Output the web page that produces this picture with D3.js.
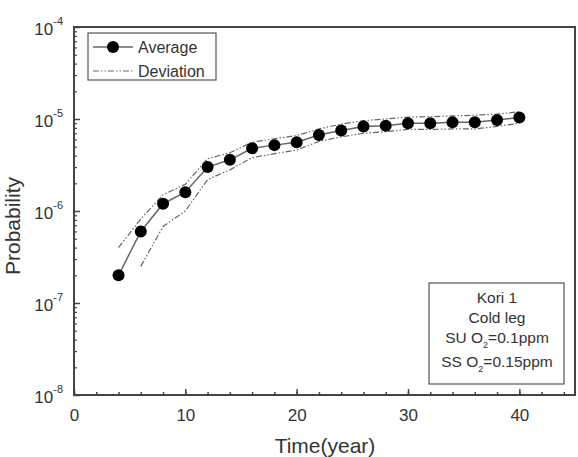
<!DOCTYPE html>
<html>
<head>
<meta charset="utf-8">
<script src="https://cdn.jsdelivr.net/npm/d3@7"></script>
<style>
  body { margin: 0; background: #fff; }
  svg text { font-family: "Liberation Sans", Arial, sans-serif; fill: #333; }
</style>
</head>
<body>
<div id="chart"></div>
<script>
var years = [4, 6, 8, 10, 12, 14, 16, 18, 20, 22, 24, 26, 28, 30, 32, 34, 36, 38, 40];
var average = [2e-7, 6e-7, 1.2e-6, 1.6e-6, 3e-6, 3.6e-6, 4.8e-6, 5.2e-6, 5.6e-6, 6.7e-6, 7.5e-6, 8.3e-6, 8.45e-6, 9e-6, 9e-6, 9.2e-6, 9.2e-6, 9.75e-6, 1.04e-5];
var upperDev = [4e-7, 8.2e-7, 1.5e-6, 1.95e-6, 3.7e-6, 4.3e-6, 5.6e-6, 6.1e-6, 6.6e-6, 7.8e-6, 8.8e-6, 9.6e-6, 1.0e-5, 1.05e-5, 1.06e-5, 1.08e-5, 1.1e-5, 1.13e-5, 1.2e-5];
var lowerYears = [6, 8, 10, 12, 14, 16, 18, 20, 22, 24, 26, 28, 30, 32, 34, 36, 38, 40];
var lowerDev = [2.5e-7, 6.8e-7, 1.0e-6, 2.2e-6, 2.8e-6, 3.8e-6, 4.2e-6, 4.6e-6, 5.7e-6, 6.4e-6, 7.0e-6, 7.3e-6, 7.7e-6, 7.7e-6, 7.8e-6, 7.8e-6, 8.3e-6, 9.0e-6];
var xTicks = [0, 10, 20, 30, 40];
var yExponents = [-4, -5, -6, -7, -8];
var noteLines = ["Kori 1", "Cold leg", "SU O|2|=0.1ppm", "SS O|2|=0.15ppm"];

var W = 578, H = 457;
var padL = 74, padT = 27, padR = 575, padB = 395;

var svg = d3.select("#chart").append("svg").attr("width", W).attr("height", H);

var x = d3.scaleLinear().domain([0, 45]).range([padL, padR]);
var y = d3.scaleLog().domain([1e-8, 1e-4]).range([padB, padT]);

// frame
svg.append("rect").attr("x", padL).attr("y", padT)
  .attr("width", padR - padL).attr("height", padB - padT)
  .attr("fill", "none").attr("stroke", "#444").attr("stroke-width", 2);

// x axis ticks (inward)
var xMinor = d3.range(0, 46, 2);
var xa = d3.axisBottom(x).tickValues(xMinor).tickSizeInner(-3).tickSizeOuter(0).tickFormat("");
svg.append("g").attr("transform", "translate(0," + padB + ")").call(xa)
  .call(function(g) { g.select(".domain").remove(); g.selectAll("line").attr("stroke", "#444").attr("stroke-width", 1.5); });
var xb = d3.axisBottom(x).tickValues(xTicks).tickSizeInner(-6).tickSizeOuter(0).tickPadding(10);
svg.append("g").attr("transform", "translate(0," + padB + ")").call(xb)
  .call(function(g) {
    g.select(".domain").remove();
    g.selectAll("line").attr("stroke", "#444").attr("stroke-width", 1.5);
    g.selectAll("text").attr("font-size", 17).attr("fill", "#333").attr("dy", "0.95em");
  });

// y axis ticks (inward), log minor ticks
var yMinor = [];
for (var e = -8; e < -4; e++) for (var m = 2; m <= 9; m++) yMinor.push(m * Math.pow(10, e));
var ya = d3.axisLeft(y).tickValues(yMinor).tickSizeInner(-3).tickSizeOuter(0).tickFormat("");
svg.append("g").attr("transform", "translate(" + padL + ",0)").call(ya)
  .call(function(g) { g.select(".domain").remove(); g.selectAll("line").attr("stroke", "#444").attr("stroke-width", 1.2); });
var yb = d3.axisLeft(y).tickValues(yExponents.map(function(p) { return Math.pow(10, p); }))
  .tickSizeInner(-6).tickSizeOuter(0).tickFormat("");
svg.append("g").attr("transform", "translate(" + padL + ",0)").call(yb)
  .call(function(g) { g.select(".domain").remove(); g.selectAll("line").attr("stroke", "#444").attr("stroke-width", 1.5); });

yExponents.forEach(function(p) {
  var t = svg.append("text").attr("x", padL - 11).attr("y", y(Math.pow(10, p)) + 8)
    .attr("text-anchor", "end").attr("font-size", 17);
  t.append("tspan").text("10");
  t.append("tspan").attr("font-size", 11).attr("dy", -10).text(p);
});

// axis titles
svg.append("text").attr("x", 325).attr("y", 453)
  .attr("text-anchor", "middle").attr("font-size", 21).text("Time(year)");
svg.append("text").attr("transform", "translate(20,226) rotate(-90)")
  .attr("text-anchor", "middle").attr("font-size", 21).text("Probability");

// deviation lines
var devLine = d3.line().x(function(d) { return x(d[0]); }).y(function(d) { return y(d[1]); });
svg.append("path").datum(d3.zip(years, upperDev)).attr("d", devLine)
  .attr("fill", "none").attr("stroke", "#666").attr("stroke-width", 1.2).attr("stroke-dasharray", "6,2,1.5,2,1.5,2");
svg.append("path").datum(d3.zip(lowerYears, lowerDev)).attr("d", devLine)
  .attr("fill", "none").attr("stroke", "#666").attr("stroke-width", 1.2).attr("stroke-dasharray", "6,2,1.5,2,1.5,2");

// average line + markers
svg.append("path").datum(d3.zip(years, average)).attr("d", devLine)
  .attr("fill", "none").attr("stroke", "#666").attr("stroke-width", 1.5);
svg.append("g").selectAll("circle").data(d3.zip(years, average)).enter().append("circle")
  .attr("cx", function(d) { return x(d[0]); }).attr("cy", function(d) { return y(d[1]); })
  .attr("r", 6).attr("fill", "#000");

// legend
var lg = svg.append("g");
lg.append("rect").attr("x", 88).attr("y", 33).attr("width", 128).attr("height", 47)
  .attr("fill", "#fff").attr("stroke", "#555").attr("stroke-width", 1.2);
lg.append("line").attr("x1", 93).attr("x2", 133).attr("y1", 47).attr("y2", 47).attr("stroke", "#666").attr("stroke-width", 1.5);
lg.append("circle").attr("cx", 113).attr("cy", 47).attr("r", 6).attr("fill", "#000");
lg.append("line").attr("x1", 93).attr("x2", 133).attr("y1", 71).attr("y2", 71)
  .attr("stroke", "#666").attr("stroke-width", 1.2).attr("stroke-dasharray", "6,2,1.5,2,1.5,2");
lg.append("text").attr("x", 138).attr("y", 53).attr("font-size", 16).text("Average");
lg.append("text").attr("x", 138).attr("y", 77).attr("font-size", 16).text("Deviation");

// annotation box
var nb = svg.append("g");
nb.append("rect").attr("x", 429).attr("y", 283).attr("width", 135).attr("height", 101)
  .attr("fill", "#fff").attr("stroke", "#555").attr("stroke-width", 1.2);
var noteY = [303, 323, 343, 367];
noteLines.forEach(function(s, i) {
  var t = nb.append("text").attr("x", 497).attr("y", noteY[i]).attr("text-anchor", "middle").attr("font-size", 15.5);
  var parts = s.split("|");
  t.append("tspan").text(parts[0]);
  if (parts.length > 1) {
    t.append("tspan").attr("font-size", 9).attr("dy", 5).text(parts[1]);
    t.append("tspan").attr("dy", -5).text(parts[2]);
  }
});
</script>
</body>
</html>
